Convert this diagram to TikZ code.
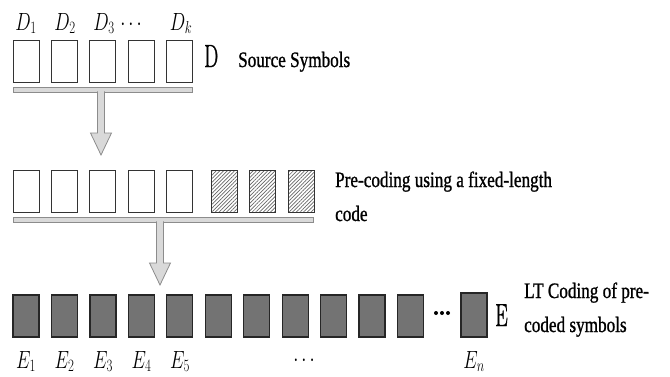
\documentclass[tikz,border=0pt]{standalone}
\usepackage[no-math]{fontspec}
\usepackage{graphicx}
\usetikzlibrary{calc,patterns.meta}
\newfontfamily\txtfont{Liberation Serif}[FakeStretch=0.78,FakeBold=1]
\newfontfamily\rowfont{Latin Modern Roman}[FakeStretch=0.62,FakeBold=1.2]

% narrow math labels
\newcommand\nm[1]{\scalebox{0.74}[1]{$#1$}}
% block arrow running from a bar down to a row of symbols
\newcommand\blockarrow[2]{%
  \filldraw[arrowstyle] ($(#1)+(-3.5,-1)$) -- ($(#2)+(-3.5,-22)$)
    -- ($(#2)+(-10.5,-22)$) -- (#2) -- ($(#2)+(10.5,-22)$)
    -- ($(#2)+(3.5,-22)$) -- ($(#1)+(3.5,-1)$);}

\tikzset{
  sbox/.style={draw=black!80, line width=0.9, minimum width=26,
    minimum height=42, inner sep=0, fill=white},
  hbox/.style={draw=black!80, line width=0.9, minimum width=26,
    minimum height=42, inner sep=0,
    pattern={Lines[angle=45, distance=2.6pt, line width=0.7pt]},
    pattern color=black!60},
  ebox/.style={draw=black!85, line width=1.2, minimum width=26,
    minimum height=42, inner sep=0, fill=black!55},
  bar/.style={draw=black!45, fill=black!15, line width=0.8, inner sep=0,
    minimum height=5},
  arrowstyle/.style={draw=black!45, fill=black!15, line width=0.8,
    line join=miter},
  mlab/.style={inner sep=0, anchor=base, font=\fontsize{27}{27}\selectfont},
  rowlab/.style={inner sep=0, anchor=base west, font=\rowfont\fontsize{32}{32}\selectfont},
  txt/.style={inner sep=0, anchor=base west, align=left,
    font=\txtfont\fontsize{22}{34}\selectfont},
}

\begin{document}
\begin{tikzpicture}[x=1pt, y=-1pt]
\useasboundingbox (0,0) rectangle (670,376);

% source symbols
\foreach \i in {0,...,4}
  \node[sbox] (d\i) at ({26+38.45*\i},61) {};
\node[mlab] (ld1) at (26,30) {\nm{D_1}};
\node[mlab] (ld2) at (65,30) {\nm{D_2}};
\node[mlab] (ld3) at (104,30) {\nm{D_3}};
\node[mlab] (ldd) at (131,30) {\nm{\cdots}};
\node[mlab] (ldk) at (181,30) {\nm{D_k}};
\node[rowlab] (rD) at (204,67) {D};
\node[txt] (tsrc) at (238,67) {Source Symbols};
\node[bar, minimum width=179] (bar1) at (102.5,89.5) {};

% pre-coded symbols
\foreach \i in {0,...,4}
  \node[sbox] (p\i) at ({26+38.45*\i},191) {};
\foreach \i in {0,...,2}
  \node[hbox] (h\i) at ({224+38.5*\i},191) {};
% a multi-line node sits on the baseline of its last line
\node[txt] (tpre) at (335,221) {Pre-coding using a fixed-length\\code};
\node[bar, minimum width=300] (bar2) at (163,219.5) {};

% LT coded symbols
\foreach \i in {0,...,10}
  \node[ebox] (e\i) at ({26+38.45*\i},316) {};
\node[ebox, minimum height=44] (en) at (474,315) {};
\foreach \x in {436,442,448}
  \fill (\x,313) circle (2);
\node[rowlab] (rE) at (495,326) {E};
\node[txt] (tlt) at (524,332) {LT Coding of pre-\\coded symbols};
\node[mlab] (le1) at (26,368) {\nm{E_1}};
\node[mlab] (le2) at (64.5,368) {\nm{E_2}};
\node[mlab] (le3) at (103,368) {\nm{E_3}};
\node[mlab] (le4) at (141.5,368) {\nm{E_4}};
\node[mlab] (le5) at (180,368) {\nm{E_5}};
\node[mlab] (led) at (304,366) {\nm{\cdots}};
\node[mlab] (len) at (474,368) {\nm{E_n}};

% arrows between the stages
\coordinate (tip1) at (101,155);
\coordinate (tip2) at (160,285);
\blockarrow{bar1.south -| tip1}{tip1}
\blockarrow{bar2.south -| tip2}{tip2}
\end{tikzpicture}
\end{document}
